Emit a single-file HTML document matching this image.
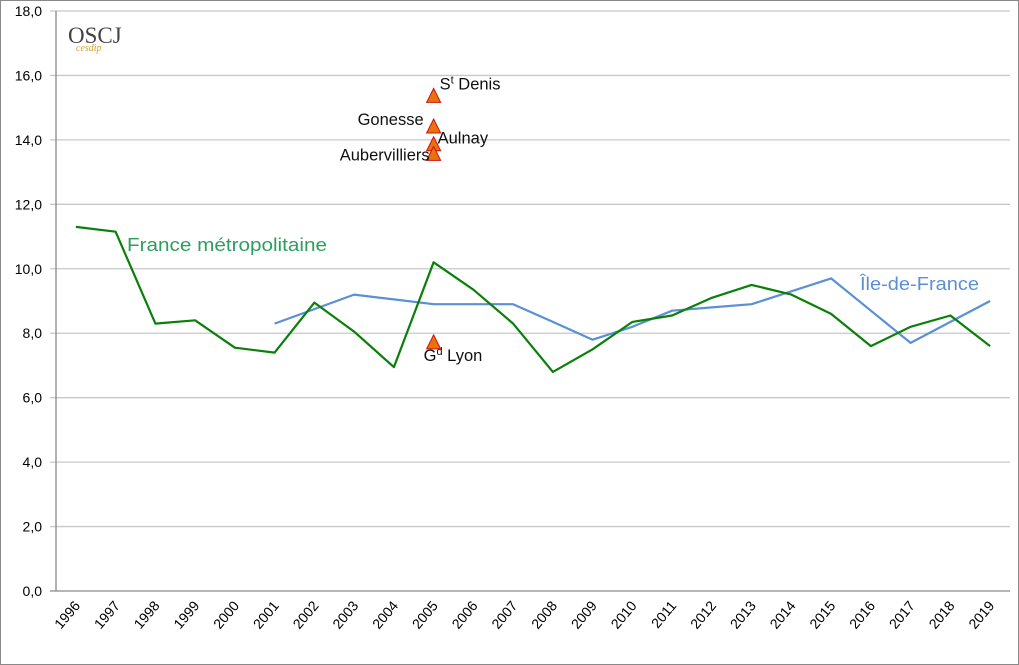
<!DOCTYPE html>
<html><head><meta charset="utf-8"><style>
body{margin:0;background:#fff}
svg{display:block;font-family:"Liberation Sans",sans-serif}
</style></head><body>
<svg id="chart" width="1019" height="665" viewBox="0 0 1019 665">
<rect x="0.5" y="0.5" width="1018" height="664" fill="#fff" stroke="#898989"/>
<g id="grid"></g><g id="axes"></g><g id="series"></g><g id="labels"></g>
<g>
<text x="68" y="43" font-family="Liberation Serif,serif" font-size="23" fill="#444">OSCJ</text>
<text x="76" y="51" font-family="Liberation Serif,serif" font-size="10" font-style="italic" fill="#d9a020">cesdip</text>
</g>
</svg>
<script>
const years=["1996","1997","1998","1999","2000","2001","2002","2003","2004","2005","2006","2007","2008","2009","2010","2011","2012","2013","2014","2015","2016","2017","2018","2019"];
const france=[11.3,11.15,8.3,8.4,7.55,7.4,8.95,8.05,6.95,10.2,9.35,8.3,6.8,7.5,8.35,8.55,9.1,9.5,9.2,8.6,7.6,8.2,8.55,7.6];
const idf=[null,null,null,null,null,8.3,8.75,9.2,9.05,8.9,8.9,8.9,8.35,7.8,8.2,8.7,8.8,8.9,9.3,9.7,8.7,7.7,8.35,9.0];
const yTicks=[0,2,4,6,8,10,12,14,16,18];
const cityNames=["St Denis","Gonesse","Aulnay","Aubervilliers","Gd Lyon"];
const cityValues=[15.35,14.4,13.85,13.55,7.7];
const cityYear="2005";
const NS="http://www.w3.org/2000/svg";
const L=56,R=1010,T=11,B=591;
const xs=i=>L+(R-L)/years.length*(i+0.5);
const ys=v=>B-(B-T)*v/18;
function mk(tag,attrs,parent,txt){const e=document.createElementNS(NS,tag);for(const k in attrs)e.setAttribute(k,attrs[k]);if(txt!==undefined)e.textContent=txt;document.getElementById(parent).appendChild(e);return e;}
yTicks.forEach(v=>{
 const g=mk('line',{x1:L-6,x2:R,y1:ys(v),y2:ys(v),stroke:v===0?'#898989':'#c8c8c8','stroke-width':1.3},'grid');
 
 
 const t=mk('text',{x:42,y:ys(v)+5,'text-anchor':'end','font-size':14,fill:'#000'},'axes',v.toFixed(1).replace('.',','));
 
 
});
const ax=mk('line',{x1:L,x2:L,y1:T,y2:B,stroke:'#898989','stroke-width':1.3},'axes');


years.forEach((y,i)=>{
 const x=xs(i);
 const t=mk('text',{x:x+5,y:606,'text-anchor':'end','font-size':14,transform:`rotate(-50 ${x+5} 606)`},'axes',y);
 
 
});
function line(vals,color,name){
 let d='';vals.forEach((v,i)=>{if(v===null)return;d+=(d?'L':'M')+xs(i).toFixed(1)+','+ys(v).toFixed(1);});
 const p=mk('path',{d:d,fill:'none',stroke:color,'stroke-width':2.2,'stroke-linejoin':'round'},'series');
 
 
}
line(idf,'#5b8fd6','ile-de-france-line');
line(france,'#0a7f0a','france-line');
const ci=years.indexOf(cityYear);
const lx=[6,-10,4,-4,-10],la=['start','end','start','end','start'],ly=[-7,-2,-1,6,18];
cityValues.forEach((v,i)=>{
 const x=xs(ci),y=ys(v);
 const p=mk('polygon',{points:`${x},${y-8} ${x-7},${y+6} ${x+7},${y+6}`,fill:'#e8720c',stroke:'#d01010','stroke-width':1},'series');
 
 
 const n=cityNames[i];
 const t=mk('text',{x:x+lx[i],y:y+ly[i],'text-anchor':la[i],'font-size':16.5,fill:'#111'},'labels');
 
 
 if(n.startsWith('St ')||n.startsWith('Gd ')){
  t.appendChild(document.createTextNode(n[0]));
  const s=document.createElementNS(NS,'tspan');s.setAttribute('font-size',11);s.setAttribute('dy',-6);s.textContent=n[1];t.appendChild(s);
  const r=document.createElementNS(NS,'tspan');r.setAttribute('dy',6);r.textContent=n.slice(2);t.appendChild(r);
 } else t.textContent=n;
});
const f=mk('text',{x:127,y:251,'font-size':18,fill:'#2e9e5e',textLength:200,lengthAdjust:'spacingAndGlyphs'},'labels','France métropolitaine');


const il=mk('text',{x:860,y:290,'font-size':18,fill:'#5b8fd6',textLength:119,lengthAdjust:'spacingAndGlyphs'},'labels','Île-de-France');


</script>
</body></html>
